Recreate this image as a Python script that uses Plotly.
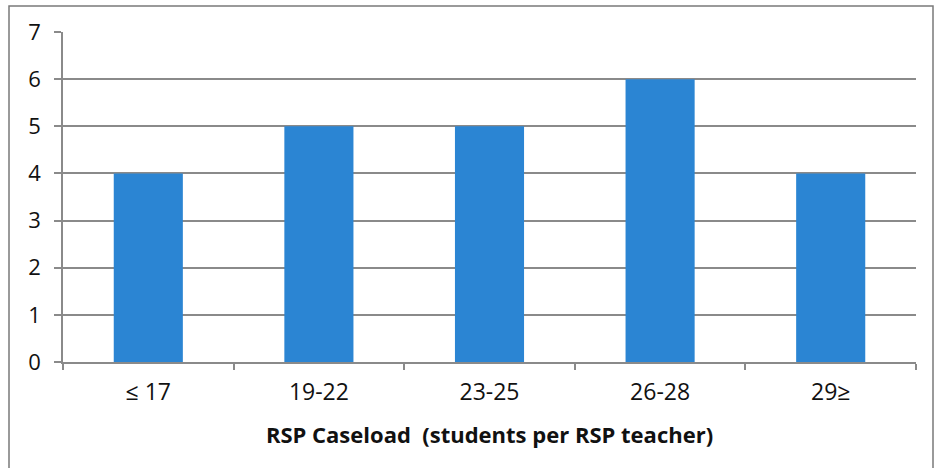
import plotly.graph_objects as go

# Caseload bins and number of teachers in each
caseload_bins = ["≤ 17", "19-22", "23-25", "26-28", "29≥"]
teacher_counts = [4, 5, 5, 6, 4]
y_ticks = [0, 1, 2, 3, 4, 5, 6, 7]

grid_color = "#8a8a8a"
bar_color = "#2b85d3"
font_family = "Open Sans, Lato, sans-serif"

fig = go.Figure(
    go.Bar(
        x=caseload_bins,
        y=teacher_counts,
        marker=dict(color=bar_color, line=dict(width=0)),
    )
)

W, H = 935, 468
ml, mr, mt, mb = 63, 19, 32, 106
pw, ph = W - ml - mr, H - mt - mb

# Outer chart frame in paper coordinates
fx0 = (9 - ml) / pw
fx1 = (933 - ml) / pw
fy1 = 1 + (mt - 6) / ph
fy0 = (H - mb - 475) / ph

fig.update_layout(
    width=W,
    height=H,
    margin=dict(l=ml, r=mr, t=mt, b=mb),
    paper_bgcolor="white",
    plot_bgcolor="white",
    bargap=0.595,
    showlegend=False,
    font=dict(family=font_family, size=22, color="#111111"),
    shapes=[
        dict(
            type="rect", xref="paper", yref="paper",
            x0=fx0, x1=fx1, y0=fy0, y1=fy1,
            line=dict(color="#7a7a7a", width=1.5),
            fillcolor="rgba(0,0,0,0)", layer="below",
        )
    ],
)

fig.update_xaxes(
    showline=True,
    linecolor=grid_color,
    linewidth=1.5,
    ticks="outside",
    tickson="boundaries",
    ticklen=6,
    tickcolor=grid_color,
    tickwidth=1.5,
    showgrid=False,
    tickfont=dict(size=23),
    ticklabelstandoff=9,
    title=dict(
        text="<b>RSP Caseload &nbsp;(students per RSP teacher)</b>",
        font=dict(size=22),
        standoff=21,
    ),
)

fig.update_yaxes(
    range=[0, 7.002],
    tickvals=y_ticks,
    showline=True,
    linecolor=grid_color,
    linewidth=1.5,
    showgrid=True,
    gridcolor=grid_color,
    gridwidth=1.5,
    zeroline=False,
    ticks="outside",
    ticklen=7,
    tickcolor=grid_color,
    tickwidth=1.5,
    tickfont=dict(size=22),
    ticklabelstandoff=9,
)

fig.write_html("out.html")
